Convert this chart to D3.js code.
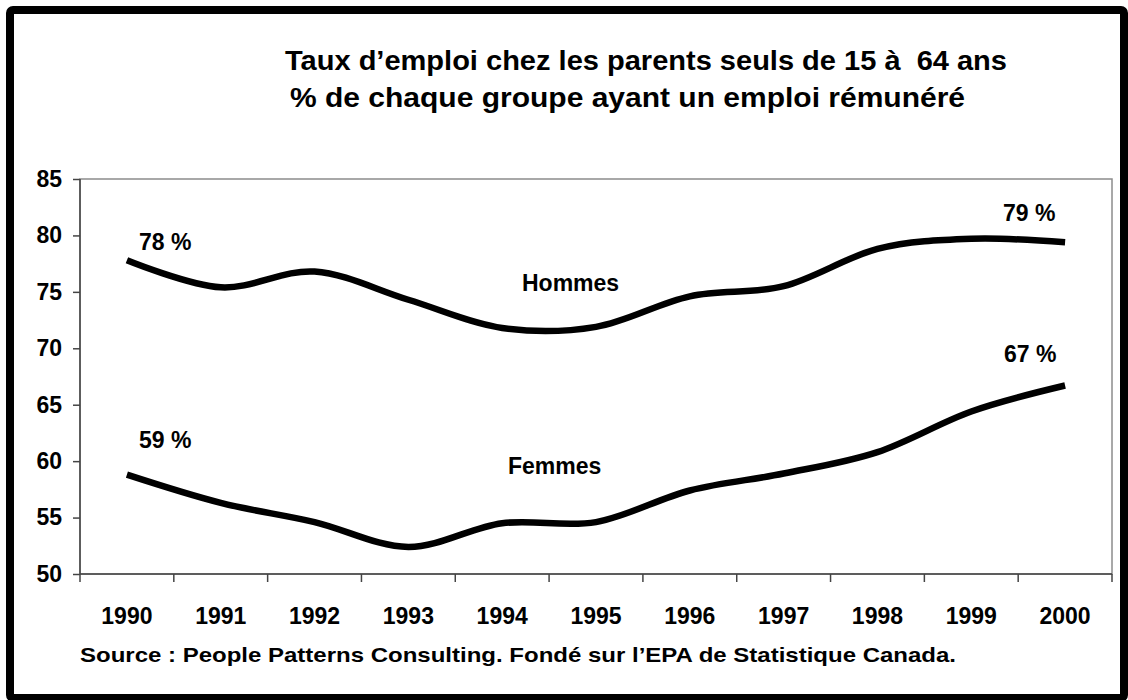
<!DOCTYPE html>
<html>
<head>
  <meta charset="utf-8">
  <script src="https://cdn.jsdelivr.net/npm/d3@7"></script>
  <style type="text/css">
    body {
      margin: 0;
      background: #fff;
      font-family: Arial, "Liberation Sans", Helvetica, sans-serif;
    }
    text {
      font-weight: bold;
      fill: #000;
    }
    .axis path, .axis line {
      stroke: #444;
      stroke-width: 1.5;
    }
    .axis text {
      font-size: 23px;
      font-family: Arial, "Liberation Sans", sans-serif;
    }
    .serie {
      fill: none;
      stroke: #000;
      stroke-width: 6.5;
    }
  </style>
</head>
<body>
  <script type="text/javascript">

  // values
  const years = ['1990', '1991', '1992', '1993', '1994', '1995', '1996', '1997', '1998', '1999', '2000'];
  const hommes = [77.8, 75.4, 76.8, 74.3, 71.8, 71.9, 74.6, 75.5, 78.8, 79.7, 79.4];
  const femmes = [58.8, 56.3, 54.6, 52.4, 54.5, 54.6, 57.4, 58.9, 60.8, 64.4, 66.7];
  const yticks = [50, 55, 60, 65, 70, 75, 80, 85];

  const titre1 = 'Taux d\u2019emploi chez les parents seuls de 15 \u00e0  64 ans';
  const titre2 = '% de chaque groupe ayant un emploi r\u00e9mun\u00e9r\u00e9';
  const source = 'Source : People Patterns Consulting. Fond\u00e9 sur l\u2019EPA de Statistique Canada.';

  const W = 1128, H = 700;
  const plot = {left: 80, right: 1112, top: 179, bottom: 574};

  const svg = d3.select('body').append('svg')
              .attr('width', W)
              .attr('height', H);

  // outer frame
  svg.append('rect')
    .attr('x', 10).attr('y', 10)
    .attr('width', 1114).attr('height', 688)
    .attr('rx', 3)
    .attr('fill', 'none')
    .attr('stroke', '#000')
    .attr('stroke-width', 8);

  // title
  svg.append('text')
    .attr('x', 285).attr('y', 70)
    .attr('font-size', 27)
    .attr('textLength', 722).attr('lengthAdjust', 'spacingAndGlyphs')
    .style('white-space', 'pre')
    .text(titre1);
  svg.append('text')
    .attr('x', 290).attr('y', 107)
    .attr('font-size', 27)
    .attr('textLength', 675).attr('lengthAdjust', 'spacingAndGlyphs')
    .text(titre2);

  // scales
  const xscale = d3.scaleBand().domain(years).range([plot.left, plot.right]);
  const yscale = d3.scaleLinear().domain([50, 85]).range([plot.bottom, plot.top]);
  const xc = (d, i) => xscale(years[i]) + xscale.bandwidth() / 2;

  // plot area border (top and right in grey)
  svg.append('rect')
    .attr('x', plot.left).attr('y', plot.top)
    .attr('width', plot.right - plot.left).attr('height', plot.bottom - plot.top)
    .attr('fill', 'none')
    .attr('stroke', '#8c8c8c')
    .attr('stroke-width', 1.5);

  // y axis
  const yaxis = d3.axisLeft(yscale).tickValues(yticks).tickSize(7).tickPadding(11);
  svg.append('g').attr('class', 'y axis')
    .attr('transform', `translate(${plot.left},0)`)
    .call(yaxis)
    .call(g => g.select('.domain').attr('d', `M0,${plot.top}V${plot.bottom}`));

  // x axis: ticks on band edges, labels on band centres
  const gx = svg.append('g').attr('class', 'x axis');
  gx.append('line')
    .attr('x1', plot.left).attr('x2', plot.right)
    .attr('y1', plot.bottom).attr('y2', plot.bottom);
  const edges = years.map(d => xscale(d)).concat([plot.right]);
  gx.selectAll('.tk').data(edges).enter().append('line')
    .attr('class', 'tk')
    .attr('x1', d => d).attr('x2', d => d)
    .attr('y1', plot.bottom).attr('y2', plot.bottom + 8);
  gx.selectAll('.lbl').data(years).enter().append('text')
    .attr('class', 'lbl')
    .attr('x', d => xscale(d) + xscale.bandwidth() / 2)
    .attr('y', 624)
    .attr('text-anchor', 'middle')
    .text(d => d);

  // lines
  const line = d3.line()
    .x(xc)
    .y(d => yscale(d))
    .curve(d3.curveCardinal.tension(0));

  svg.append('path').datum(hommes).attr('class', 'serie').attr('d', line);
  svg.append('path').datum(femmes).attr('class', 'serie').attr('d', line);

  // labels on the lines
  const labels = [
    {t: Math.round(hommes[0]) + ' %', x: 139, y: 250},
    {t: Math.round(hommes[10]) + ' %', x: 1003, y: 221},
    {t: Math.round(femmes[0]) + ' %', x: 139, y: 448},
    {t: Math.round(femmes[10]) + ' %', x: 1004, y: 362},
    {t: 'Hommes', x: 522, y: 291},
    {t: 'Femmes', x: 508, y: 474}
  ];
  svg.selectAll('.lab').data(labels).enter().append('text')
    .attr('class', 'lab')
    .attr('x', d => d.x).attr('y', d => d.y)
    .attr('font-size', 23)
    .text(d => d.t);

  // source
  svg.append('text')
    .attr('x', 80).attr('y', 662)
    .attr('font-size', 21)
    .attr('textLength', 876).attr('lengthAdjust', 'spacingAndGlyphs')
    .text(source);

  </script>
</body>
</html>
